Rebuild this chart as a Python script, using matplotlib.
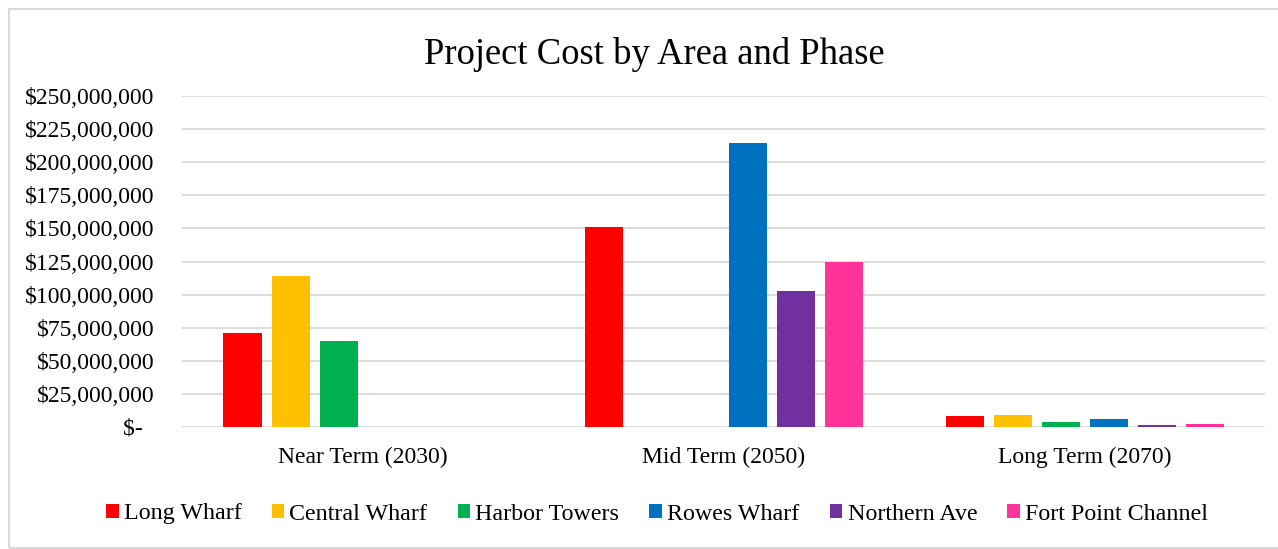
import matplotlib
matplotlib.use("Agg")
import matplotlib.pyplot as plt
import numpy as np
from matplotlib.patches import Rectangle
from matplotlib.ticker import FuncFormatter, MultipleLocator

plt.rcParams['font.family'] = ['Liberation Serif', 'DejaVu Serif']

phases = ["Near Term (2030)", "Mid Term (2050)", "Long Term (2070)"]
areas = ["Long Wharf", "Central Wharf", "Harbor Towers", "Rowes Wharf",
         "Northern Ave", "Fort Point Channel"]
colors = ["#FF0000", "#FFC000", "#00B050", "#0070C0", "#7030A0", "#FF3399"]

# Project cost in dollars, one list per area (Near, Mid, Long)
long_wharf = [70_700_000, 151_400_000, 8_100_000]
central_wharf = [114_200_000, 0, 9_300_000]
harbor_towers = [65_100_000, 0, 4_000_000]
rowes_wharf = [0, 214_500_000, 5_800_000]
northern_ave = [0, 102_600_000, 1_300_000]
fort_point_channel = [0, 125_000_000, 2_000_000]

series = [long_wharf, central_wharf, harbor_towers, rowes_wharf,
          northern_ave, fort_point_channel]

W, H = 1278, 549
fig = plt.figure(figsize=(W / 100, H / 100), dpi=100)
ax = fig.add_axes([182 / W, (H - 427) / H, (1265 - 182) / W, (427 - 96) / H])

x = np.arange(len(phases))
step = 48 / 361
width = 38 / 361
for i, (name, vals, c) in enumerate(zip(areas, series, colors)):
    ax.bar(x + (i - 2.5) * step, vals, width, color=c, label=name, zorder=3)

ax.set_xlim(-0.5, 2.5)
ax.set_ylim(0, 250_000_000)
ax.yaxis.set_major_locator(MultipleLocator(25_000_000))


def money(v, pos):
    if v == 0:
        return "$-\u2002"
    return "${:,.0f}".format(v)


ax.yaxis.set_major_formatter(FuncFormatter(money))
ax.set_xticks(x)
ax.set_xticklabels(phases)
ax.tick_params(axis='both', length=0, labelsize=17, colors='#000000')
ax.tick_params(axis='y', pad=20)
ax.tick_params(axis='x', pad=14)
ax.grid(axis='y', color='#D9D9D9', linewidth=1.3, zorder=0)
for s in ax.spines.values():
    s.set_visible(False)

fig.text(654 / W, (H - 54) / H, "Project Cost by Area and Phase",
         ha='center', va='center', fontsize=26.4)

leg = fig.legend(loc='center', bbox_to_anchor=(657 / W, (H - 514) / H),
                 ncol=6, frameon=False, fontsize=17.3, handlelength=0.53,
                 handleheight=0.53, handletextpad=0.21, columnspacing=1.26,
                 borderpad=0, borderaxespad=0)

# Outer chart border
fig.patches.append(Rectangle((9 / W, 1 / H), 1.2, (H - 10) / H,
                             transform=fig.transFigure, fill=False,
                             edgecolor='#D9D9D9', linewidth=1.5))

fig.savefig("out.png", dpi=100, facecolor='white')
